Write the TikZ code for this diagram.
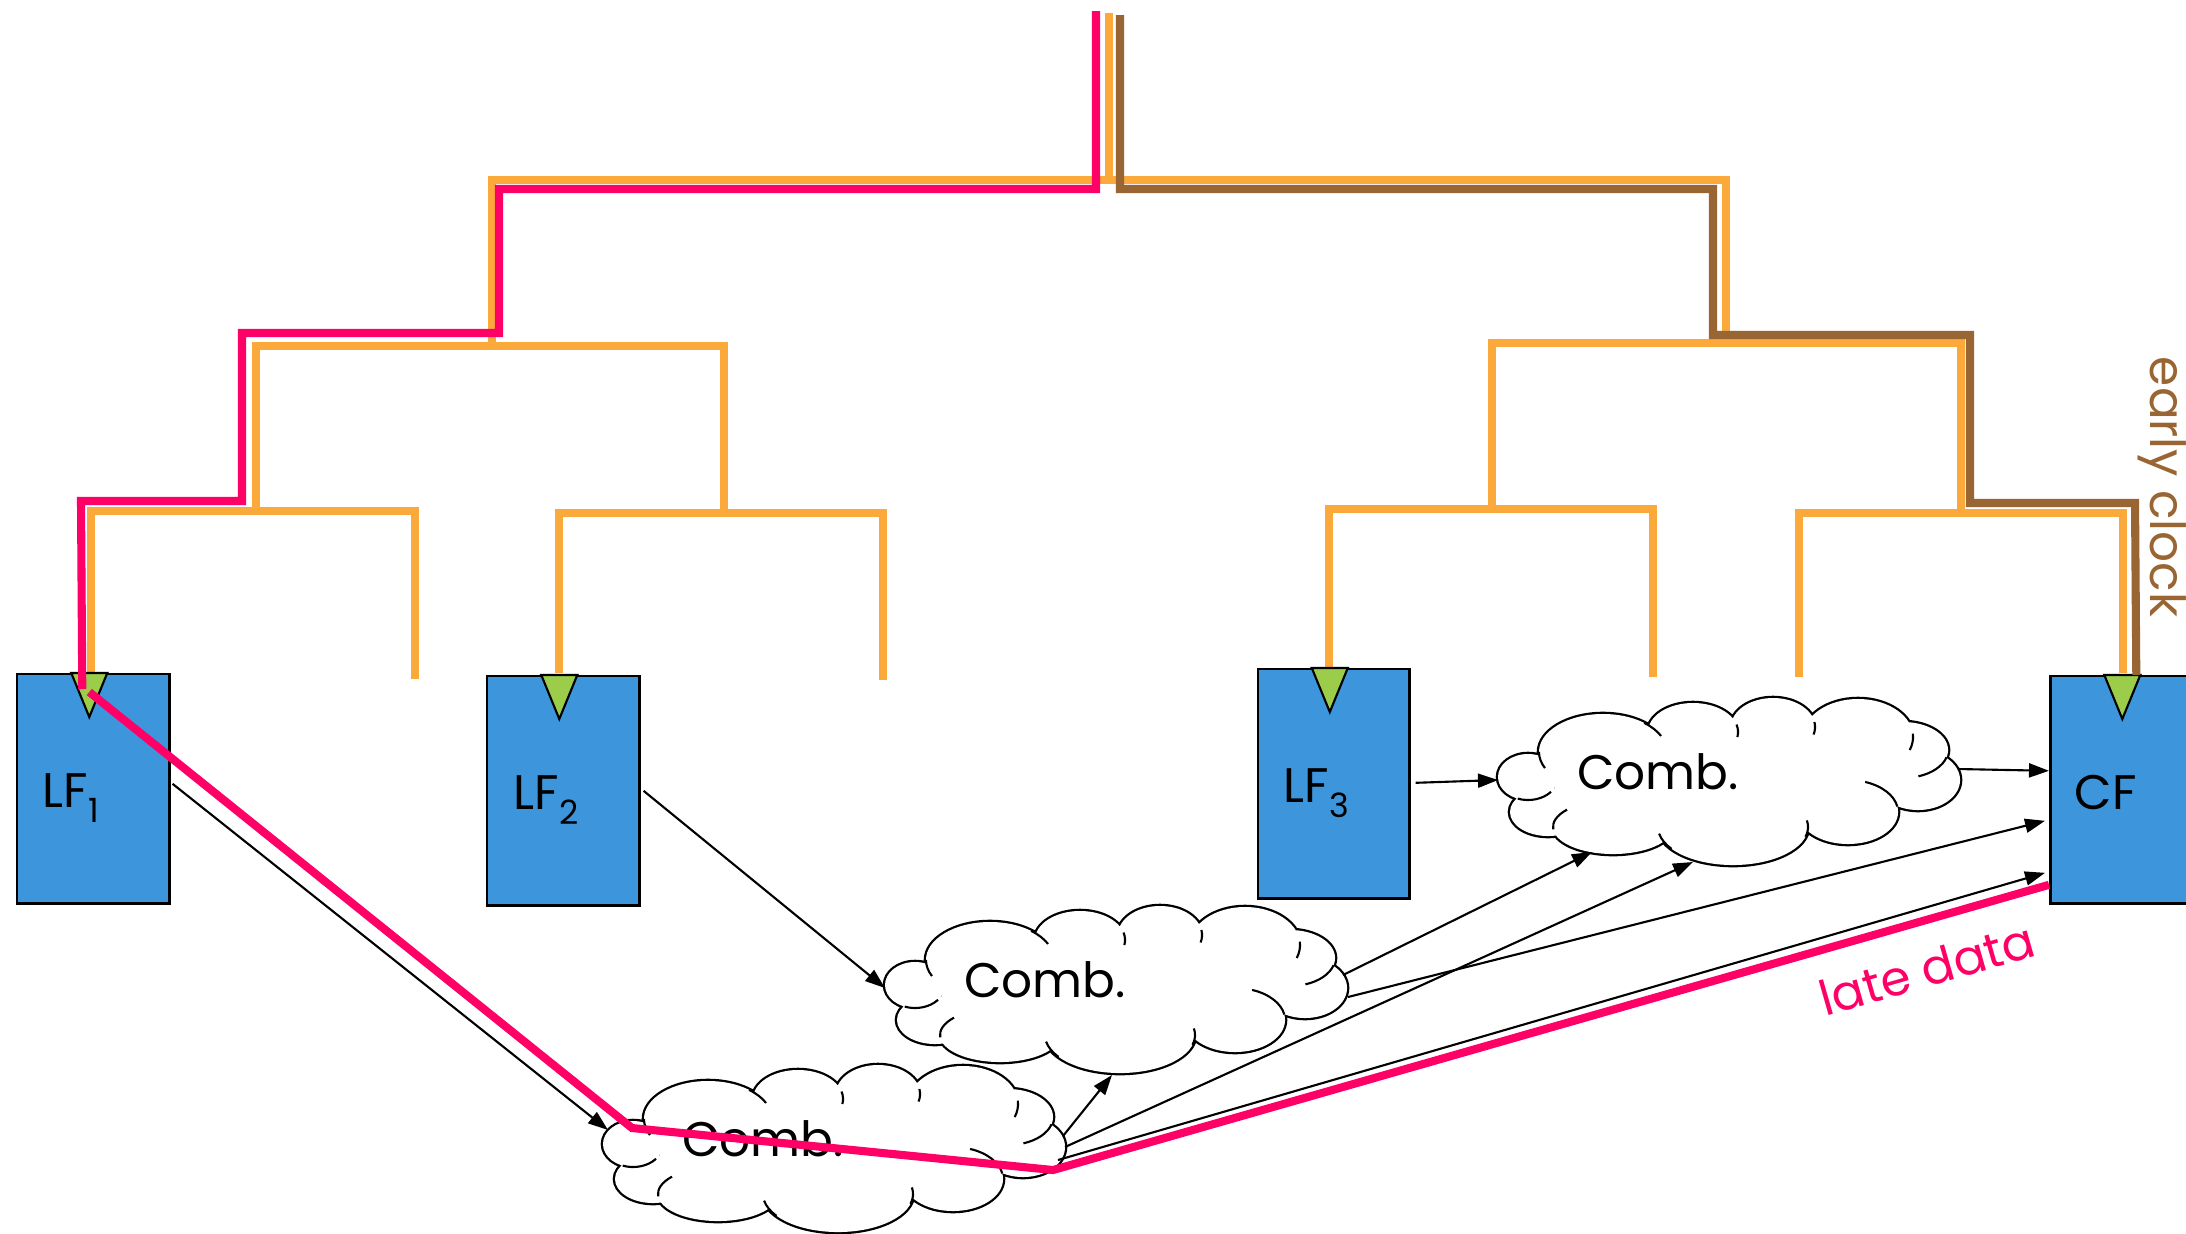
\documentclass[tikz,border=0pt]{standalone}
\usepackage{fontspec}
\newfontfamily\lblfont{Poppins}
\usetikzlibrary{arrows.meta}
\definecolor{clkorange}{RGB}{251,169,59}
\definecolor{latepink}{RGB}{255,0,102}
\definecolor{earlybrown}{RGB}{153,102,51}
\definecolor{ffblue}{RGB}{61,149,220}
\definecolor{trigreen}{RGB}{155,205,75}
\tikzset{
  clkline/.style={line width=2.3pt, line cap=butt},
  orangeclk/.style={clkline, draw=clkorange},
  pinkclk/.style={clkline, draw=latepink},
  brownclk/.style={clkline, draw=earlybrown},
  arr/.style={draw=black, line width=0.6pt, -{Triangle[length=0.2cm, width=0.14cm]}},
  ffbox/.style={draw=black, line width=0.7pt, fill=ffblue, inner sep=0pt,
    minimum width=1.52cm, minimum height=2.29cm, anchor=north west},
  tri/.style={draw=black, line width=0.6pt, fill=trigreen, line join=miter},
  lbl/.style={font=\lblfont\fontsize{13.8}{16}\selectfont, inner sep=0pt},
  cloudline/.style={draw=black, line width=0.6pt},
}
\newcommand\drawcloud[3]{%
\begin{scope}[shift={#1}]
\draw[line width=1.3pt]
 (30,79) ellipse [x radius=0.30cm, y radius=0.23cm]
 (105,54) ellipse [x radius=0.64cm, y radius=0.38cm]
 (195,34) ellipse [x radius=0.45cm, y radius=0.29cm]
 (275,29) ellipse [x radius=0.42cm, y radius=0.29cm]
 (360,39) ellipse [x radius=0.55cm, y radius=0.38cm]
 (405,52) ellipse [x radius=0.45cm, y radius=0.28cm]
 (420,82) ellipse [x radius=0.42cm, y radius=0.30cm]
 (350,114) ellipse [x radius=0.50cm, y radius=0.32cm]
 (235,129) ellipse [x radius=0.75cm, y radius=0.38cm]
 (115,129) ellipse [x radius=0.60cm, y radius=0.27cm]
 (50,114) ellipse [x radius=0.38cm, y radius=0.24cm];
\fill[white]
 (30,79) ellipse [x radius=0.30cm, y radius=0.23cm]
 (105,54) ellipse [x radius=0.64cm, y radius=0.38cm]
 (195,34) ellipse [x radius=0.45cm, y radius=0.29cm]
 (275,29) ellipse [x radius=0.42cm, y radius=0.29cm]
 (360,39) ellipse [x radius=0.55cm, y radius=0.38cm]
 (405,52) ellipse [x radius=0.45cm, y radius=0.28cm]
 (420,82) ellipse [x radius=0.42cm, y radius=0.30cm]
 (350,114) ellipse [x radius=0.50cm, y radius=0.32cm]
 (235,129) ellipse [x radius=0.75cm, y radius=0.38cm]
 (115,129) ellipse [x radius=0.60cm, y radius=0.27cm]
 (50,114) ellipse [x radius=0.38cm, y radius=0.24cm]
 (230,82) ellipse [x radius=1.75cm, y radius=0.50cm];
\draw[cloudline] ([shift={(250:0.30cm and 0.23cm)}]30,79) arc[start angle=250, end angle=320, x radius=0.30cm, y radius=0.23cm];
\draw[cloudline] ([shift={(180:0.64cm and 0.38cm)}]105,54) arc[start angle=180, end angle=205, x radius=0.64cm, y radius=0.38cm];
\draw[cloudline] ([shift={(50:0.64cm and 0.38cm)}]105,54) arc[start angle=50, end angle=25, x radius=0.64cm, y radius=0.38cm];
\draw[cloudline] ([shift={(15:0.45cm and 0.29cm)}]195,34) arc[start angle=15, end angle=-10, x radius=0.45cm, y radius=0.29cm];
\draw[cloudline] ([shift={(10:0.42cm and 0.29cm)}]275,29) arc[start angle=10, end angle=-15, x radius=0.42cm, y radius=0.29cm];
\draw[cloudline] ([shift={(5:0.55cm and 0.38cm)}]360,39) arc[start angle=5, end angle=-20, x radius=0.55cm, y radius=0.38cm];
\draw[cloudline] ([shift={(290:0.45cm and 0.28cm)}]405,52) arc[start angle=290, end angle=345, x radius=0.45cm, y radius=0.28cm];
\draw[cloudline] ([shift={(70:0.50cm and 0.32cm)}]350,114) arc[start angle=70, end angle=10, x radius=0.50cm, y radius=0.32cm];
\draw[cloudline] ([shift={(190:0.75cm and 0.38cm)}]235,129) arc[start angle=190, end angle=215, x radius=0.75cm, y radius=0.38cm];
\draw[cloudline] ([shift={(-15:0.75cm and 0.38cm)}]235,129) arc[start angle=-15, end angle=10, x radius=0.75cm, y radius=0.38cm];
\draw[cloudline] ([shift={(140:0.60cm and 0.27cm)}]115,129) arc[start angle=140, end angle=185, x radius=0.60cm, y radius=0.27cm];
\node[inner sep=0pt, minimum width=4.62cm, minimum height=1.67cm, anchor=north west] (#2) at (0,0) {};
\node[lbl, anchor=base] (#3) at (160,91) {Comb.};
\end{scope}}
\begin{document}
\begin{tikzpicture}[x=0.01cm, y=-0.01cm]
\path[use as bounding box] (0,0) rectangle (2186,1233);
\clip (0,0) rectangle (2186,1233);
\fill[white] (0,0) rectangle (2186,1233);

% orange clock tree
\draw[orangeclk] (1109,13) -- (1109,180);
\draw[orangeclk] (492,346) -- (492,180) -- (1726,180) -- (1726,343);
\draw[orangeclk] (256,511) -- (256,346) -- (724,346) -- (724,513);
\draw[orangeclk] (91,673) -- (91,511) -- (415,511) -- (415,679);
\draw[orangeclk] (559,673) -- (559,513) -- (883,513) -- (883,680);
\draw[orangeclk] (1492,509) -- (1492,343) -- (1961,343) -- (1961,513);
\draw[orangeclk] (1329,668) -- (1329,509) -- (1653,509) -- (1653,677);
\draw[orangeclk] (1799,677) -- (1799,513) -- (2123,513) -- (2123,673);

% flip-flops
\node[ffbox] (LF1) at (16,673) {};
\node[ffbox] (LF2) at (486,675) {};
\node[ffbox, minimum width=1.51cm] (LF3) at (1257,668) {};
\node[ffbox, minimum height=2.27cm] (CF) at (2049,675) {};
\foreach \b in {LF1,LF2,LF3,CF}{
  \draw[tri] ([shift={(-22,0)}]\b.north) -- ([shift={(14,0)}]\b.north) -- ([shift={(-4,44)}]\b.north) -- cycle;
}
\node[lbl, anchor=base west] (LF1t) at ([shift={(26,134)}]LF1.north west) {LF\raisebox{-4.3pt}{\fontsize{9.5}{11}\selectfont 1}};
\node[lbl, anchor=base west] (LF2t) at ([shift={(27,134)}]LF2.north west) {LF\raisebox{-4.3pt}{\fontsize{9.5}{11}\selectfont 2}};
\node[lbl, anchor=base west] (LF3t) at ([shift={(26,134)}]LF3.north west) {LF\raisebox{-4.3pt}{\fontsize{9.5}{11}\selectfont 3}};
\node[lbl, anchor=base west] (CFt) at ([shift={(25,134)}]CF.north west) {CF};

% combinational clouds
\drawcloud{(603,1065)}{cA}{cAt}
\drawcloud{(885,906)}{cB}{cBt}
\drawcloud{(1498,698)}{cC}{cCt}

% data connectors
\draw[arr] ([shift={(2,-5)}]LF1.east) -- ([shift={(5,65)}]cA.north west);
\draw[arr] ([shift={(3,0)}]LF2.east) -- ([shift={(0,82)}]cB.north west);
\draw[arr] ([shift={(5,-1)}]LF3.east) -- ([shift={(0,82)}]cC.north west);
\draw[arr] ([shift={(460,71)}]cC.north west) -- ([shift={(0,-19)}]CF.west);
\draw[arr] ([shift={(458,69)}]cB.north west) -- ([shift={(94,154)}]cC.north west);
\draw[arr] ([shift={(463,91)}]cB.north west) -- ([shift={(-4,31)}]CF.west);
\draw[arr] ([shift={(460,71)}]cA.north west) -- ([shift={(227,169)}]cB.north west);
\draw[arr] ([shift={(462,82)}]cA.north west) -- ([shift={(195,164)}]cC.north west);
\draw[arr] ([shift={(455,95)}]cA.north west) -- ([shift={(-4,83)}]CF.west);

% late clock path (pink)
\coordinate (pinktop) at (1096,11);
\draw[pinkclk] (pinktop) -- (1096,189) -- (499,189) -- (499,333) -- (242,333) -- (242,501) -- (81,501) -- ([shift={(-11,16)}]LF1.north);
% late data path (pink)
\draw[pinkclk] ([shift={(-4,19)}]LF1.north) -- ([shift={(29,63)}]cA.north west) -- ([shift={(450,105)}]cA.north west) -- ([shift={(0,95)}]CF.west);
% early clock path (brown)
\coordinate (browntop) at (1120,15);
\draw[brownclk] (browntop) -- (1120,189) -- (1713,189) -- (1713,335) -- (1970,335) -- (1970,503) -- (2135,503) -- ([shift={(10,0)}]CF.north);

% labels
\node[lbl, text=earlybrown, rotate=-90] (ec) at (2162,487) {early clock};
\node[lbl, text=latepink, rotate=16] (ld) at (1927,969) {late data};
\end{tikzpicture}
\end{document}
